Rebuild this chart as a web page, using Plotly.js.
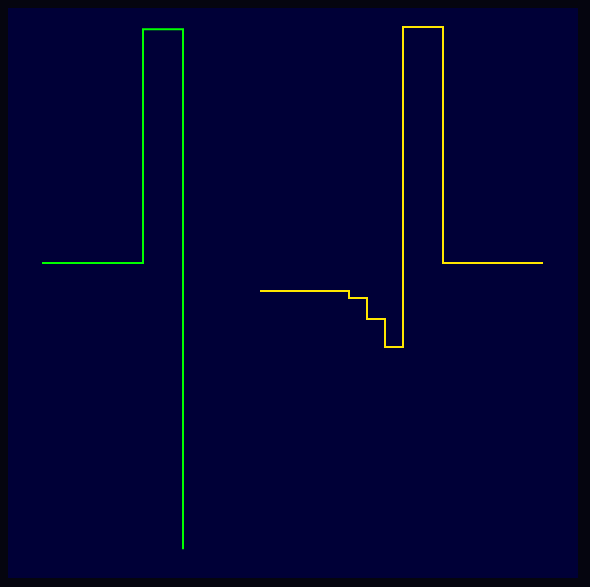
<!DOCTYPE html>
<html>
<head>
<meta charset="utf-8">
<script src="https://cdn.plot.ly/plotly-3.0.1.min.js"></script>
<style>html,body{margin:0;padding:0;background:#05050f;}</style>
</head>
<body>
<div id="chart" style="width:590px;height:587px;"></div>
<script>
// Series A (green step line)
const greenX = [0, 5.05, 7.05];
const greenY = [0, 33.4, -40.9];
// Series B (yellow step line)
const yellowX = [10.9, 15.35, 16.25, 17.15, 18.05, 20.05, 25.05];
const yellowY = [-4, -5, -8, -12, 33.7, 0, 0];

const traces = [
  {x: greenX, y: greenY, type: 'scatter', mode: 'lines', line: {shape: 'hv', color: '#00ff00', width: 2}, name: 'A'},
  {x: yellowX, y: yellowY, type: 'scatter', mode: 'lines', line: {shape: 'hv', color: '#ffe600', width: 2}, name: 'B'}
];
const ax = {showgrid: false, zeroline: false, showticklabels: false, showline: false, ticks: ''};
const layout = {
  width: 590, height: 587,
  margin: {l: 8, r: 12, t: 8, b: 9, pad: 0},
  paper_bgcolor: '#05050f',
  plot_bgcolor: '#000037',
  showlegend: false,
  xaxis: Object.assign({range: [-1.7, 26.8]}, ax),
  yaxis: Object.assign({range: [-45, 36.43]}, ax)
};
Plotly.newPlot('chart', traces, layout, {displayModeBar: false, staticPlot: true});
</script>
</body>
</html>
